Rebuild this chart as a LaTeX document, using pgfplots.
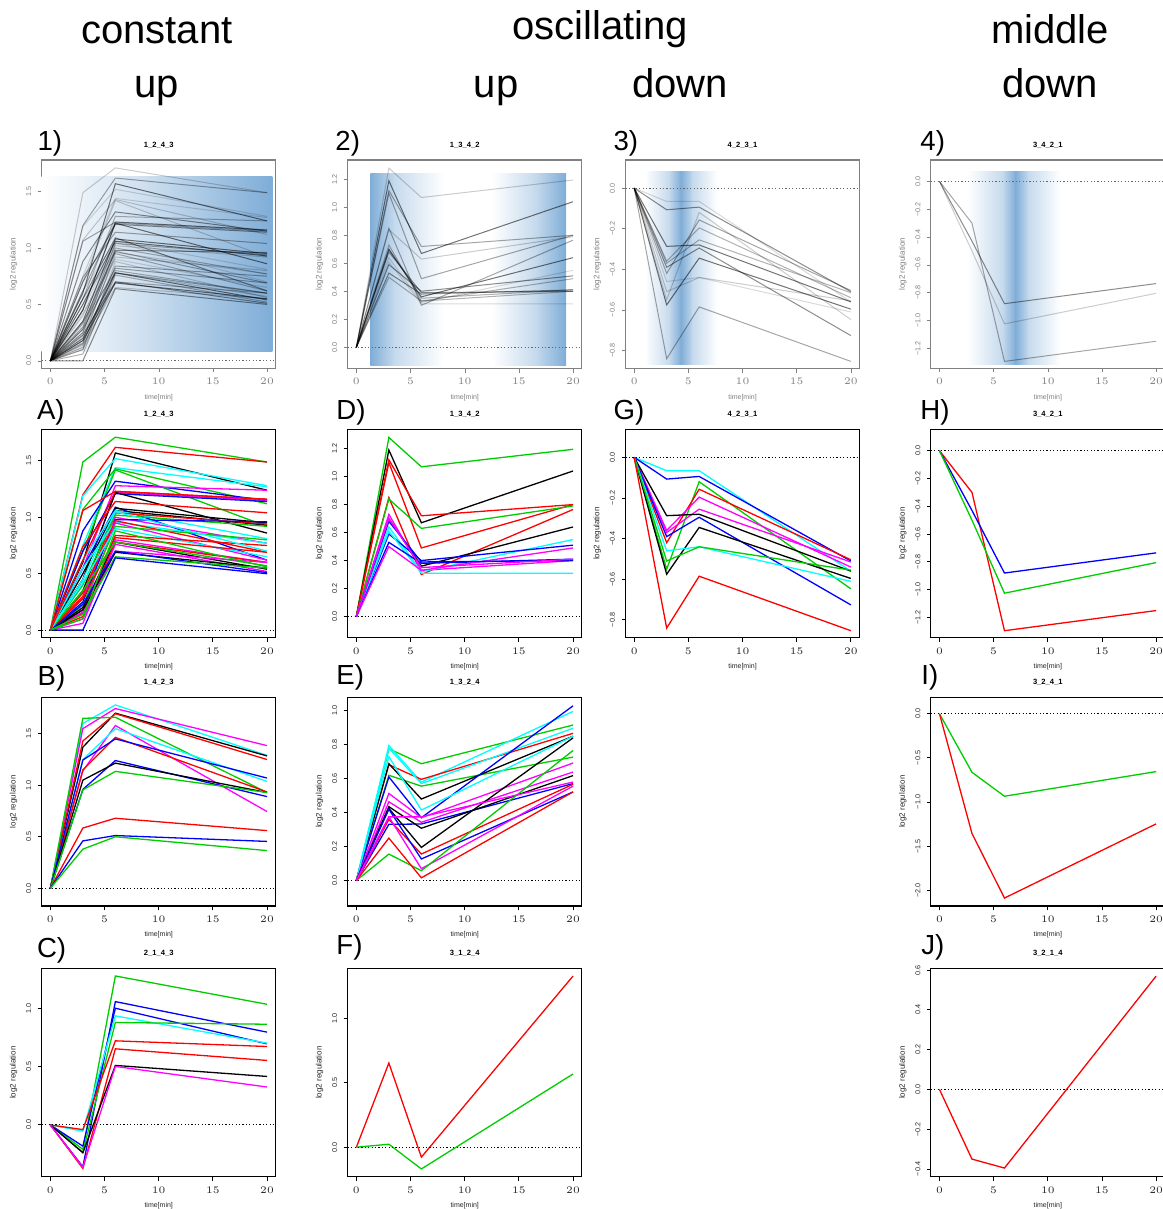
\documentclass[border=0pt]{standalone}
\usepackage{fontspec}
\setmainfont{Liberation Sans}
\usepackage{pgfplots}
\pgfplotsset{compat=1.18}

\definecolor{green3}{RGB}{0,205,0}
\definecolor{rred}{RGB}{255,0,0}
\definecolor{rblue}{RGB}{0,0,255}
\definecolor{rcyan}{RGB}{0,255,255}
\definecolor{rmag}{RGB}{255,0,255}
\definecolor{bl}{HTML}{7FADD7}
\newcommand{\fs}[1]{\fontsize{#1}{#1}\selectfont}

\pgfplotsset{
  panel/.style={
    scale only axis, width=117pt, height=104.25pt, anchor=north west,
    xmin=-0.8, xmax=20.8, xtick={0,5,10,15,20},
    tick align=outside, xtick pos=bottom, ytick pos=left,
    major tick length=2pt, no marks,
    xlabel={time[min]}, ylabel={log2 regulation},
    xlabel style={at={(axis description cs:0.5,-0.139)}, anchor=center, font=\fs{3.5}},
    ylabel style={at={(axis description cs:-0.12,0.5)}, anchor=center, font=\fs{4}},
    title style={at={(axis description cs:0.5,1.015)}, anchor=center, font=\fs{3.8}\bfseries},
    x tick label style={font=\fs{3.6}, anchor=center},
    xticklabel shift=4.5pt,
    y tick label style={font=\fs{3.6}, rotate=90, anchor=center},
    yticklabel shift=4.5pt,
  },
  colset/.style={
    cK/.style={black}, cR/.style={rred}, cG/.style={green3},
    cB/.style={rblue}, cC/.style={rcyan}, cM/.style={rmag},
    every axis plot/.append style={line width=0.65pt},
    axis line style={black, line width=0.6pt},
    every tick/.append style={black, line width=0.45pt},
    tick label style={text=black!85},
    label style={text=black!85},
  },
  greyset/.style={
    cK/.style={black, draw opacity=0.55}, cR/.style={black, draw opacity=0.35},
    cG/.style={black, draw opacity=0.2}, cB/.style={black, draw opacity=0.45},
    cC/.style={black, draw opacity=0.15}, cM/.style={black, draw opacity=0.3},
    every axis plot/.append style={line width=0.5pt},
    axis line style={black!50, line width=0.6pt},
    every tick/.append style={black!50},
    tick label style={text=black!50},
    label style={text=black!50},
  },
}
\newcommand{\zeroK}{\draw[black, line width=0.5pt, dash pattern=on 0.6pt off 1.1pt] (axis cs:-0.8,0) -- (axis cs:20.8,0);}
\newcommand{\zeroG}{\draw[black!60, line width=0.5pt, dash pattern=on 0.6pt off 1.1pt] (axis cs:-0.8,0) -- (axis cs:20.8,0);}

% pattern 1_2_4_3
\newcommand{\dataA}{
\addplot[cG] coordinates {(0,0)(3,1.49)(6,1.71)(20,1.49)};
\addplot[cR] coordinates {(0,0)(3,1.20)(6,1.62)(20,1.49)};
\addplot[cK] coordinates {(0,0)(3,0.60)(6,1.57)(20,1.24)};
\addplot[cC] coordinates {(0,0)(3,1.19)(6,1.52)(20,1.28)};
\addplot[cC] coordinates {(0,0)(3,0.75)(6,1.44)(20,1.27)};
\addplot[cG] coordinates {(0,0)(3,1.07)(6,1.43)(20,1.12)};
\addplot[cG] coordinates {(0,0)(3,0.70)(6,1.42)(20,0.92)};
\addplot[cB] coordinates {(0,0)(3,0.88)(6,1.32)(20,1.15)};
\addplot[cM] coordinates {(0,0)(3,0.55)(6,1.28)(20,1.24)};
\addplot[cR] coordinates {(0,0)(3,1.06)(6,1.23)(20,1.16)};
\addplot[cM] coordinates {(0,0)(3,0.45)(6,1.22)(20,1.15)};
\addplot[cB] coordinates {(0,0)(3,0.70)(6,1.21)(20,1.14)};
\addplot[cK] coordinates {(0,0)(3,0.45)(6,1.22)(20,0.86)};
\addplot[cR] coordinates {(0,0)(3,0.74)(6,1.14)(20,1.04)};
\addplot[cB] coordinates {(0,0)(3,0.55)(6,1.09)(20,0.62)};
\addplot[cK] coordinates {(0,0)(3,0.35)(6,1.08)(20,0.95)};
\addplot[cK] coordinates {(0,0)(3,0.50)(6,1.06)(20,0.93)};
\addplot[cC] coordinates {(0,0)(3,0.62)(6,1.06)(20,0.81)};
\addplot[cR] coordinates {(0,0)(3,0.30)(6,1.04)(20,0.94)};
\addplot[cG] coordinates {(0,0)(3,0.40)(6,1.02)(20,0.92)};
\addplot[cM] coordinates {(0,0)(3,0.28)(6,1.00)(20,0.77)};
\addplot[cB] coordinates {(0,0)(3,0.25)(6,0.98)(20,0.96)};
\addplot[cC] coordinates {(0,0)(3,0.55)(6,0.96)(20,0.77)};
\addplot[cR] coordinates {(0,0)(3,0.33)(6,0.97)(20,0.69)};
\addplot[cM] coordinates {(0,0)(3,0.18)(6,0.95)(20,0.62)};
\addplot[cG] coordinates {(0,0)(3,0.22)(6,0.92)(20,0.80)};
\addplot[cC] coordinates {(0,0)(3,0.42)(6,0.90)(20,0.65)};
\addplot[cR] coordinates {(0,0)(3,0.15)(6,0.84)(20,0.75)};
\addplot[cR] coordinates {(0,0)(3,0.28)(6,0.82)(20,0.69)};
\addplot[cM] coordinates {(0,0)(3,0.16)(6,0.80)(20,0.60)};
\addplot[cK] coordinates {(0,0)(3,0.20)(6,0.78)(20,0.54)};
\addplot[cR] coordinates {(0,0)(3,0.12)(6,0.78)(20,0.60)};
\addplot[cM] coordinates {(0,0)(3,0.06)(6,0.76)(20,0.52)};
\addplot[cG] coordinates {(0,0)(3,0.35)(6,0.78)(20,0.57)};
\addplot[cM] coordinates {(0,0)(3,0.10)(6,0.70)(20,0.60)};
\addplot[cK] coordinates {(0,0)(3,0.18)(6,0.69)(20,0.55)};
\addplot[cB] coordinates {(0,0)(3,0.23)(6,0.70)(20,0.51)};
\addplot[cG] coordinates {(0,0)(3,0.14)(6,0.65)(20,0.55)};
\addplot[cB] coordinates {(0,0)(3,0.00)(6,0.64)(20,0.50)};
\addplot[cC] coordinates {(0,0)(3,0.45)(6,1.05)(20,0.70)};
\addplot[cG] coordinates {(0,0)(3,0.10)(6,0.88)(20,0.56)};
\addplot[cR] coordinates {(0,0)(3,0.62)(6,1.23)(20,1.16)};
}
% pattern 1_3_4_2
\newcommand{\dataD}{
\addplot[cG] coordinates {(0,0)(3,1.28)(6,1.07)(20,1.195)};
\addplot[cK] coordinates {(0,0)(3,1.19)(6,0.67)(20,1.04)};
\addplot[cR] coordinates {(0,0)(3,1.12)(6,0.72)(20,0.80)};
\addplot[cR] coordinates {(0,0)(3,1.10)(6,0.49)(20,0.80)};
\addplot[cR] coordinates {(0,0)(3,0.85)(6,0.30)(20,0.765)};
\addplot[cG] coordinates {(0,0)(3,0.84)(6,0.63)(20,0.79)};
\addplot[cK] coordinates {(0,0)(3,0.70)(6,0.36)(20,0.64)};
\addplot[cM] coordinates {(0,0)(3,0.73)(6,0.33)(20,0.40)};
\addplot[cC] coordinates {(0,0)(3,0.64)(6,0.32)(20,0.55)};
\addplot[cB] coordinates {(0,0)(3,0.59)(6,0.40)(20,0.51)};
\addplot[cC] coordinates {(0,0)(3,0.61)(6,0.31)(20,0.31)};
\addplot[cB] coordinates {(0,0)(3,0.53)(6,0.38)(20,0.41)};
\addplot[cM] coordinates {(0,0)(3,0.50)(6,0.33)(20,0.49)};
\addplot[cB] coordinates {(0,0)(3,0.68)(6,0.39)(20,0.40)};
\addplot[cM] coordinates {(0,0)(3,0.70)(6,0.35)(20,0.41)};
}
% pattern 4_2_3_1
\newcommand{\dataG}{
\addplot[cC] coordinates {(0,0)(3,-0.066)(6,-0.066)(20,-0.56)};
\addplot[cB] coordinates {(0,0)(3,-0.107)(6,-0.094)(20,-0.51)};
\addplot[cG] coordinates {(0,0)(3,-0.55)(6,-0.12)(20,-0.647)};
\addplot[cR] coordinates {(0,0)(3,-0.42)(6,-0.157)(20,-0.504)};
\addplot[cM] coordinates {(0,0)(3,-0.36)(6,-0.196)(20,-0.54)};
\addplot[cM] coordinates {(0,0)(3,-0.37)(6,-0.255)(20,-0.515)};
\addplot[cK] coordinates {(0,0)(3,-0.287)(6,-0.28)(20,-0.56)};
\addplot[cB] coordinates {(0,0)(3,-0.39)(6,-0.295)(20,-0.726)};
\addplot[cK] coordinates {(0,0)(3,-0.575)(6,-0.345)(20,-0.596)};
\addplot[cC] coordinates {(0,0)(3,-0.46)(6,-0.44)(20,-0.61)};
\addplot[cG] coordinates {(0,0)(3,-0.51)(6,-0.44)(20,-0.555)};
\addplot[cR] coordinates {(0,0)(3,-0.84)(6,-0.585)(20,-0.853)};
}
% pattern 3_4_2_1
\newcommand{\dataH}{
\addplot[cR] coordinates {(0,0)(3,-0.30)(6,-1.295)(20,-1.15)};
\addplot[cB] coordinates {(0,0)(3,-0.43)(6,-0.88)(20,-0.735)};
\addplot[cG] coordinates {(0,0)(3,-0.50)(6,-1.025)(20,-0.805)};
}

\begin{document}
\begin{tikzpicture}
\useasboundingbox (0,0) rectangle (581pt,-604.5pt);

% ---------- row 1: grey panels with blue window ----------
\begin{axis}[panel, greyset, at={(20.85pt,-80pt)}, ymin=-0.068, ymax=1.78,
  ytick={0,0.5,1,1.5}, yticklabels={0.0,0.5,1.0,1.5}, title={1\_2\_4\_3}]
\shade[left color=white, right color=bl!40!white] (axis cs:-0.8,0.084) rectangle (axis cs:9.05,1.638);
\shade[left color=bl!40!white, right color=bl] (axis cs:9,0.084) rectangle (axis cs:20.5,1.638);
\dataA
\zeroG
\end{axis}

\begin{axis}[panel, greyset, at={(173.85pt,-80pt)}, ymin=-0.152, ymax=1.338,
  ytick={0,0.2,0.4,0.6,0.8,1,1.2}, yticklabels={0.0,0.2,0.4,0.6,0.8,1.0,1.2}, title={1\_3\_4\_2}]
\shade[left color=bl, right color=bl!45!white] (axis cs:1.29,-0.131) rectangle (axis cs:3.55,1.243);
\shade[left color=bl!45!white, right color=white] (axis cs:3.5,-0.131) rectangle (axis cs:8.05,1.243);
\shade[left color=white, right color=bl!45!white] (axis cs:12.5,-0.131) rectangle (axis cs:16.55,1.243);
\shade[left color=bl!45!white, right color=bl] (axis cs:16.5,-0.131) rectangle (axis cs:19.36,1.243);
\dataD
\zeroG
\end{axis}

\begin{axis}[panel, greyset, at={(312.75pt,-80pt)}, ymin=-0.888, ymax=0.138,
  ytick={-0.8,-0.6,-0.4,-0.2,0}, yticklabels={−0.8,−0.6,−0.4,−0.2,0.0}, title={4\_2\_3\_1}]
\shade[left color=white, right color=bl!45!white] (axis cs:0.98,-0.866) rectangle (axis cs:3.25,0.081);
\shade[left color=bl!45!white, right color=bl] (axis cs:3.2,-0.866) rectangle (axis cs:4.35,0.081);
\shade[left color=bl, right color=bl!45!white] (axis cs:4.3,-0.866) rectangle (axis cs:5.45,0.081);
\shade[left color=bl!45!white, right color=white] (axis cs:5.4,-0.866) rectangle (axis cs:7.69,0.081);
\dataG
\zeroG
\end{axis}

\begin{axis}[panel, greyset, at={(465.4pt,-80pt)}, ymin=-1.346, ymax=0.154,
  ytick={-1.2,-1,-0.8,-0.6,-0.4,-0.2,0}, yticklabels={−1.2,−1.0,−0.8,−0.6,−0.4,−0.2,0.0}, title={3\_4\_2\_1}]
\shade[left color=white, right color=bl!45!white] (axis cs:2.54,-1.315) rectangle (axis cs:5.85,0.069);
\shade[left color=bl!45!white, right color=bl] (axis cs:5.8,-1.315) rectangle (axis cs:7.05,0.069);
\shade[left color=bl, right color=bl!45!white] (axis cs:7.0,-1.315) rectangle (axis cs:8.25,0.069);
\shade[left color=bl!45!white, right color=white] (axis cs:8.2,-1.315) rectangle (axis cs:11.18,0.069);
\dataH
\zeroG
\end{axis}

% ---------- row 2 ----------
\begin{axis}[panel, colset, at={(20.85pt,-214.65pt)}, ymin=-0.068, ymax=1.78,
  ytick={0,0.5,1,1.5}, yticklabels={0.0,0.5,1.0,1.5}, title={1\_2\_4\_3}]
\dataA
\zeroK
\end{axis}

\begin{axis}[panel, colset, at={(173.85pt,-214.65pt)}, ymin=-0.152, ymax=1.338,
  ytick={0,0.2,0.4,0.6,0.8,1,1.2}, yticklabels={0.0,0.2,0.4,0.6,0.8,1.0,1.2}, title={1\_3\_4\_2}]
\dataD
\zeroK
\end{axis}

\begin{axis}[panel, colset, at={(312.75pt,-214.65pt)}, ymin=-0.888, ymax=0.138,
  ytick={-0.8,-0.6,-0.4,-0.2,0}, yticklabels={−0.8,−0.6,−0.4,−0.2,0.0}, title={4\_2\_3\_1}]
\dataG
\zeroK
\end{axis}

\begin{axis}[panel, colset, at={(465.4pt,-214.65pt)}, ymin=-1.346, ymax=0.154,
  ytick={-1.2,-1,-0.8,-0.6,-0.4,-0.2,0}, yticklabels={−1.2,−1.0,−0.8,−0.6,−0.4,−0.2,0.0}, title={3\_4\_2\_1}]
\dataH
\zeroK
\end{axis}

% ---------- row 3 ----------
\begin{axis}[panel, colset, at={(20.85pt,-348.75pt)}, ymin=-0.172, ymax=1.852,
  ytick={0,0.5,1,1.5}, yticklabels={0.0,0.5,1.0,1.5}, title={1\_4\_2\_3}]
\addplot[cC] coordinates {(0,0)(3,1.60)(6,1.78)(20,1.29)};
\addplot[cM] coordinates {(0,0)(3,1.55)(6,1.745)(20,1.385)};
\addplot[cK] coordinates {(0,0)(3,1.37)(6,1.70)(20,1.285)};
\addplot[cR] coordinates {(0,0)(3,1.43)(6,1.695)(20,1.25)};
\addplot[cG] coordinates {(0,0)(3,1.65)(6,1.66)(20,0.93)};
\addplot[cM] coordinates {(0,0)(3,1.14)(6,1.58)(20,0.745)};
\addplot[cC] coordinates {(0,0)(3,1.25)(6,1.55)(20,1.037)};
\addplot[cR] coordinates {(0,0)(3,1.15)(6,1.465)(20,0.935)};
\addplot[cB] coordinates {(0,0)(3,1.245)(6,1.45)(20,1.07)};
\addplot[cB] coordinates {(0,0)(3,0.96)(6,1.24)(20,0.89)};
\addplot[cK] coordinates {(0,0)(3,1.05)(6,1.215)(20,0.93)};
\addplot[cG] coordinates {(0,0)(3,0.955)(6,1.135)(20,0.93)};
\addplot[cR] coordinates {(0,0)(3,0.585)(6,0.68)(20,0.56)};
\addplot[cB] coordinates {(0,0)(3,0.46)(6,0.512)(20,0.455)};
\addplot[cG] coordinates {(0,0)(3,0.38)(6,0.50)(20,0.366)};
\zeroK
\end{axis}

\begin{axis}[panel, colset, at={(173.85pt,-348.75pt)}, ymin=-0.15, ymax=1.078,
  ytick={0,0.2,0.4,0.6,0.8,1}, yticklabels={0.0,0.2,0.4,0.6,0.8,1.0}, title={1\_3\_2\_4}]
\addplot[cG] coordinates {(0,0)(3,0.776)(6,0.688)(20,0.916)};
\addplot[cC] coordinates {(0,0)(3,0.795)(6,0.58)(20,0.996)};
\addplot[cR] coordinates {(0,0)(3,0.682)(6,0.596)(20,0.867)};
\addplot[cC] coordinates {(0,0)(3,0.78)(6,0.571)(20,0.897)};
\addplot[cG] coordinates {(0,0)(3,0.62)(6,0.556)(20,0.727)};
\addplot[cK] coordinates {(0,0)(3,0.688)(6,0.48)(20,0.85)};
\addplot[cB] coordinates {(0,0)(3,0.61)(6,0.37)(20,1.029)};
\addplot[cC] coordinates {(0,0)(3,0.73)(6,0.415)(20,0.85)};
\addplot[cM] coordinates {(0,0)(3,0.513)(6,0.37)(20,0.692)};
\addplot[cM] coordinates {(0,0)(3,0.464)(6,0.343)(20,0.639)};
\addplot[cB] coordinates {(0,0)(3,0.331)(6,0.333)(20,0.571)};
\addplot[cK] coordinates {(0,0)(3,0.435)(6,0.308)(20,0.618)};
\addplot[cK] coordinates {(0,0)(3,0.425)(6,0.195)(20,0.84)};
\addplot[cR] coordinates {(0,0)(3,0.36)(6,0.156)(20,0.567)};
\addplot[cB] coordinates {(0,0)(3,0.42)(6,0.127)(20,0.522)};
\addplot[cM] coordinates {(0,0)(3,0.375)(6,0.07)(20,0.556)};
\addplot[cG] coordinates {(0,0)(3,0.156)(6,0.058)(20,0.766)};
\addplot[cR] coordinates {(0,0)(3,0.25)(6,0.016)(20,0.522)};
\addplot[cM] coordinates {(0,0)(3,0.375)(6,0.375)(20,0.58)};
\zeroK
\end{axis}

\begin{axis}[panel, colset, at={(465.4pt,-348.75pt)}, ymin=-2.177, ymax=0.184,
  ytick={-2,-1.5,-1,-0.5,0}, yticklabels={−2.0,−1.5,−1.0,−0.5,0.0}, title={3\_2\_4\_1}]
\addplot[cG] coordinates {(0,0)(3,-0.663)(6,-0.934)(20,-0.655)};
\addplot[cR] coordinates {(0,0)(3,-1.356)(6,-2.087)(20,-1.247)};
\zeroK
\end{axis}

% ---------- row 4 ----------
\begin{axis}[panel, colset, at={(20.85pt,-484.15pt)}, ymin=-0.447, ymax=1.35,
  ytick={0,0.5,1}, yticklabels={0.0,0.5,1.0}, title={2\_1\_4\_3}]
\addplot[cG] coordinates {(0,0)(3,-0.21)(6,1.284)(20,1.04)};
\addplot[cB] coordinates {(0,0)(3,-0.36)(6,1.063)(20,0.80)};
\addplot[cB] coordinates {(0,0)(3,-0.183)(6,1.006)(20,0.699)};
\addplot[cC] coordinates {(0,0)(3,-0.054)(6,0.94)(20,0.705)};
\addplot[cG] coordinates {(0,0)(3,-0.235)(6,0.883)(20,0.868)};
\addplot[cR] coordinates {(0,0)(3,-0.04)(6,0.725)(20,0.676)};
\addplot[cR] coordinates {(0,0)(3,-0.375)(6,0.656)(20,0.556)};
\addplot[cK] coordinates {(0,0)(3,-0.24)(6,0.513)(20,0.418)};
\addplot[cM] coordinates {(0,0)(3,-0.364)(6,0.504)(20,0.327)};
\zeroK
\end{axis}

\begin{axis}[panel, colset, at={(173.85pt,-484.15pt)}, ymin=-0.23, ymax=1.39,
  ytick={0,0.5,1}, yticklabels={0.0,0.5,1.0}, title={3\_1\_2\_4}]
\addplot[cR] coordinates {(0,0)(3,0.654)(6,-0.077)(20,1.33)};
\addplot[cG] coordinates {(0,0)(3,0.023)(6,-0.169)(20,0.569)};
\zeroK
\end{axis}

\begin{axis}[panel, colset, at={(465.4pt,-484.15pt)}, ymin=-0.439, ymax=0.609,
  ytick={-0.4,-0.2,0,0.2,0.4,0.6}, yticklabels={−0.4,−0.2,0.0,0.2,0.4,0.6}, title={3\_2\_1\_4}]
\addplot[cR] coordinates {(0,0)(3,-0.35)(6,-0.395)(20,0.57)};
\zeroK
\end{axis}

% ---------- headings and panel letters ----------
\begin{scope}[every node/.style={font=\fs{20}, anchor=base, inner sep=0pt}]
\node at (78.5pt,-22pt) {constant};
\node at (78.5pt,-49pt) {up};
\node at (300pt,-20pt) {oscillating};
\node at (248pt,-49pt) {up};
\node at (340pt,-49pt) {down};
\node at (525pt,-22pt) {middle};
\node at (525pt,-49pt) {down};
\end{scope}
\begin{scope}[every node/.style={font=\fs{13.8}, anchor=base west, inner sep=0pt}]
\node at (18.6pt,-75.3pt) {1)};
\node at (167.5pt,-75.3pt) {2)};
\node at (306.6pt,-75.3pt) {3)};
\node at (460pt,-75.3pt) {4)};
\node at (18.3pt,-209.5pt) {A)};
\node at (168pt,-209.5pt) {D)};
\node at (306.6pt,-209.5pt) {G)};
\node at (460pt,-209.5pt) {H)};
\node at (18.6pt,-342.5pt) {B)};
\node at (168pt,-342pt) {E)};
\node at (460.5pt,-342pt) {I)};
\node at (18.3pt,-478.5pt) {C)};
\node at (168pt,-477pt) {F)};
\node at (460.5pt,-477pt) {J)};
\end{scope}
\end{tikzpicture}
\end{document}
